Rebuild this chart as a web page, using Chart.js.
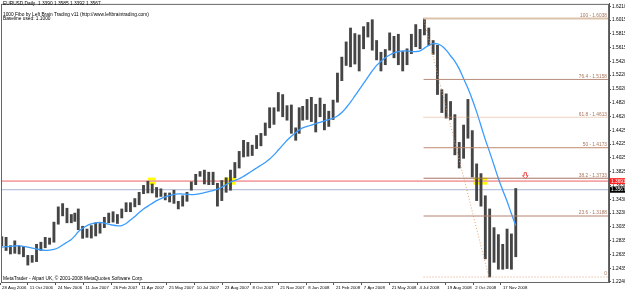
<!DOCTYPE html>
<html>
<head>
<meta charset="utf-8">
<script src="https://cdn.jsdelivr.net/npm/chart.js@4.4.0/dist/chart.umd.min.js"></script>
<style>
html, body { margin: 0; padding: 0; background: #fff; }
</style>
</head>
<body>
<canvas id="eurusd" width="625" height="290"></canvas>
<script>
// weekly ranges, week 0 = 28 Aug 2006
const weekLow = [
  1.2760, 1.2690, 1.2640, 1.2650, 1.2640, 1.2600, 1.2480, 1.2520, 1.2530, 1.2690,
  1.2730, 1.2780, 1.2810, 1.3070, 1.3190, 1.3090, 1.3090, 1.3110, 1.2990, 1.2866,
  1.2880, 1.2870, 1.2900, 1.2940, 1.3020, 1.3090, 1.3100, 1.3080, 1.3160, 1.3250,
  1.3250, 1.3320, 1.3350, 1.3510, 1.3520, 1.3520, 1.3460, 1.3470, 1.3420, 1.3390,
  1.3370, 1.3290, 1.3330, 1.3400, 1.3560, 1.3640, 1.3760, 1.3650, 1.3640, 1.3640,
  1.3330, 1.3410, 1.3530, 1.3560, 1.3740, 1.3880, 1.4040, 1.4050, 1.4060, 1.4160,
  1.4200, 1.4350, 1.4460, 1.4510, 1.4700, 1.4620, 1.4570, 1.4380, 1.4280, 1.4380,
  1.4570, 1.4580, 1.4550, 1.4400, 1.4620, 1.4430, 1.4480, 1.4580, 1.4830, 1.5140,
  1.5360, 1.5340, 1.5380, 1.5280, 1.5600, 1.5770, 1.5580, 1.5440, 1.5280, 1.5370,
  1.5580, 1.5470, 1.5370, 1.5280, 1.5370, 1.5530, 1.5630, 1.5600, 1.5800, 1.5650,
  1.5520, 1.4940, 1.4680, 1.4600, 1.4580, 1.4070, 1.3880, 1.4020, 1.4310, 1.3750,
  1.3410, 1.3330, 1.2570, 1.2308, 1.2520, 1.2420, 1.2420, 1.2430, 1.2420, 1.2600
];
const weekHigh = [
  1.2890, 1.2880, 1.2760, 1.2830, 1.2750, 1.2750, 1.2620, 1.2620, 1.2780, 1.2810,
  1.2880, 1.2870, 1.3100, 1.3320, 1.3367, 1.3300, 1.3210, 1.3230, 1.3290, 1.3040,
  1.3000, 1.3050, 1.3090, 1.3080, 1.3170, 1.3230, 1.3250, 1.3210, 1.3290, 1.3380,
  1.3380, 1.3440, 1.3530, 1.3630, 1.3690, 1.3650, 1.3600, 1.3580, 1.3520, 1.3520,
  1.3560, 1.3400, 1.3480, 1.3530, 1.3680, 1.3790, 1.3830, 1.3850, 1.3820, 1.3820,
  1.3660, 1.3700, 1.3740, 1.3850, 1.3960, 1.4120, 1.4280, 1.4250, 1.4210, 1.4350,
  1.4380, 1.4530, 1.4750, 1.4750, 1.4970, 1.4940, 1.4780, 1.4790, 1.4460, 1.4750,
  1.4770, 1.4870, 1.4900, 1.4800, 1.4890, 1.4800, 1.4700, 1.4860, 1.5250, 1.5480,
  1.5700, 1.5900, 1.5820, 1.5800, 1.5920, 1.5980, 1.6020, 1.5720, 1.5550, 1.5590,
  1.5830, 1.5780, 1.5810, 1.5560, 1.5600, 1.5810, 1.5950, 1.5880, 1.6038, 1.5900,
  1.5720, 1.5650, 1.5010, 1.4950, 1.4840, 1.4650, 1.4250, 1.4500, 1.4870, 1.4420,
  1.3940, 1.3800, 1.3480, 1.3290, 1.3020, 1.2920, 1.2780, 1.3000, 1.2930, 1.3585
];
// blue moving average, read per week
const maValues = [
  1.2740, 1.2745, 1.2750, 1.2755, 1.2760, 1.2750, 1.2740, 1.2725, 1.2712, 1.2700,
  1.2692, 1.2695, 1.2705, 1.2730, 1.2770, 1.2810, 1.2850, 1.2900, 1.2960, 1.3010,
  1.3050, 1.3075, 1.3090, 1.3095, 1.3085, 1.3070, 1.3055, 1.3047, 1.3050, 1.3080,
  1.3130, 1.3180, 1.3240, 1.3290, 1.3330, 1.3370, 1.3410, 1.3440, 1.3465, 1.3485,
  1.3500, 1.3507, 1.3505, 1.3500, 1.3497, 1.3500, 1.3510, 1.3525, 1.3540, 1.3555,
  1.3575, 1.3605, 1.3640, 1.3675, 1.3700, 1.3725, 1.3760, 1.3800, 1.3840, 1.3880,
  1.3920, 1.3960, 1.4010, 1.4070, 1.4140, 1.4210, 1.4280, 1.4340, 1.4390, 1.4430,
  1.4460, 1.4480, 1.4500, 1.4520, 1.4540, 1.4560, 1.4580, 1.4600, 1.4630, 1.4680,
  1.4750, 1.4830, 1.4920, 1.5010, 1.5100, 1.5190, 1.5280, 1.5360, 1.5420, 1.5470,
  1.5510, 1.5540, 1.5560, 1.5570, 1.5570, 1.5560, 1.5560, 1.5570, 1.5610, 1.5650,
  1.5675, 1.5670, 1.5640, 1.5580, 1.5500, 1.5420, 1.5310, 1.5170, 1.5030, 1.4870,
  1.4690, 1.4490, 1.4290, 1.4110, 1.3920, 1.3730, 1.3560, 1.3400, 1.3220, 1.3050
];

const dateLabels = ['28 Aug 2006', '11 Oct 2006', '24 Nov 2006', '11 Jan 2007', '26 Feb 2007',
  '11 Apr 2007', '25 May 2007', '10 Jul 2007', '23 Aug 2007', '8 Oct 2007', '21 Nov 2007',
  '8 Jan 2008', '21 Feb 2008', '7 Apr 2008', '21 May 2008', '4 Jul 2008', '19 Aug 2008',
  '2 Oct 2008', '17 Nov 2008'];
const dateBars = [0, 32, 64, 96, 128, 160, 192, 224, 256, 288, 320, 352, 384, 416, 448, 480, 512, 544, 576];

const priceTicks = [1.6210, 1.6015, 1.5815, 1.5615, 1.5420, 1.5220, 1.5020, 1.4820, 1.4620, 1.4425,
  1.4225, 1.4025, 1.3825, 1.3630, 1.3430, 1.3230, 1.3035, 1.2835, 1.2635, 1.2435, 1.2240];

const fibNames = ['100', '76.4', '61.8', '50', '38.2', '23.6', '0'];
const fibPrices = [1.6038, 1.5158, 1.4613, 1.4173, 1.3733, 1.3188, 1.2308];
const peakBar = 487;   // 15 Jul 2008
const lowBar = 562;    // 28 Oct 2008

const levelPrice = 1.3691;   // red horizontal line
const bidPrice = 1.3567;
const touchZones = [[170, 179], [258, 264], [265, 271], [544, 560]];
const arrowBar = 604;
const arrowPrice = 1.3813;

const titleLines = ['EURUSD,Daily  1.3390 1.3585 1.3392 1.3567', '',
  '1000 Fibo by Left Brain Trading v11 (http://www.leftbraintrading.com)', 'Baseline used: 1.1000'];
const footer = 'MetaTrader - Alpari UK, \u00a9 2001-2008 MetaQuotes Software Corp.';

const xMin = 1.15, xMax = 700.2;
const yMin = 1.2236, yMax = 1.6248;

// Dec 25 and Jan 1 have no bars
function barOfWeek(k) {
  let b = 5 * k + 2;
  if (k >= 18) b -= 2; else if (k === 17) b -= 1;
  if (k >= 70) b -= 2; else if (k === 69) b -= 1;
  return b;
}

const fibColors = ['#dcc2aa', '#b88e7c', '#d8a486', '#c08a70', '#a87464', '#b48270', '#e0a27e'];
const fibWidths = [2, 1, 1, 1, 1, 1, 1];
const fibDash = [[], [], [1, 1], [], [], [], [1, 2]];

const FONT = '"Liberation Sans", Arial, sans-serif';
const SIZE = 4.8;
const tiny = SIZE + 'px ' + FONT;

const datasets = [{
  type: 'bar',
  data: weekLow.map((lo, k) => ({ x: barOfWeek(k), y: [lo, weekHigh[k]] })),
  backgroundColor: '#454545',
  barThickness: 2.2,
  borderWidth: 0,
  order: 5
}, {
  type: 'line',
  data: maValues.map((v, k) => ({ x: barOfWeek(k), y: v })),
  borderColor: '#3a9cff',
  borderWidth: 1.3,
  pointRadius: 0,
  tension: 0.4,
  order: 4
}, {
  type: 'line',
  data: [{ x: xMin, y: levelPrice }, { x: xMax, y: levelPrice }],
  borderColor: '#f4a4a4',
  borderWidth: 1.6,
  pointRadius: 0,
  order: 6
}, {
  type: 'line',
  data: [{ x: xMin, y: bidPrice }, { x: xMax, y: bidPrice }],
  borderColor: '#aab4d2',
  borderWidth: 1,
  pointRadius: 0,
  order: 6
}, {
  type: 'line',
  data: [{ x: peakBar, y: fibPrices[0] }, { x: lowBar, y: fibPrices[6] }],
  borderColor: '#e0a070',
  borderWidth: 1,
  borderDash: [1, 2],
  pointRadius: 0,
  order: 3
}];

fibPrices.forEach((p, i) => {
  datasets.push({
    type: 'line',
    data: [{ x: peakBar, y: p }, { x: xMax, y: p }],
    borderColor: fibColors[i],
    borderWidth: fibWidths[i],
    borderDash: fibDash[i],
    pointRadius: 0,
    order: 2
  });
});

const overlay = {
  id: 'overlay',
  beforeDatasetsDraw(chart) {
    const { ctx, scales: { x, y } } = chart;
    const yc = y.getPixelForValue(levelPrice);
    ctx.save();
    ctx.fillStyle = '#ffff00';
    touchZones.forEach(([b0, b1]) => {
      const x0 = x.getPixelForValue(b0), x1 = x.getPixelForValue(b1);
      ctx.fillRect(x0, yc - 3.5, x1 - x0, 7);
    });
    ctx.restore();
  },
  afterDraw(chart) {
    const { ctx, chartArea: a, scales: { x, y } } = chart;
    ctx.save();
    // frame
    ctx.strokeStyle = '#666';
    ctx.lineWidth = 1;
    ctx.strokeRect(a.left + 0.5, a.top + 0.5, a.right - a.left - 1, a.bottom - a.top);

    ctx.font = tiny;
    ctx.textBaseline = 'middle';
    ctx.fillStyle = '#000';
    ctx.textAlign = 'left';
    const rows = [4, 9.5, 14.3, 18.8];
    titleLines.forEach((t, i) => ctx.fillText(t, 3, rows[i]));
    ctx.fillText(footer, 3, a.bottom - 3);

    // fibo labels
    ctx.textAlign = 'right';
    ctx.textBaseline = 'bottom';
    fibPrices.forEach((p, i) => {
      const t = fibNames[i] === '0' ? '0' : fibNames[i] + ' - ' + p.toFixed(4);
      ctx.fillStyle = '#a8745a';
      ctx.fillText(t, a.right - 2, y.getPixelForValue(p) - 0.5);
    });

    // arrow
    const ax = x.getPixelForValue(arrowBar), ay = y.getPixelForValue(arrowPrice);
    ctx.beginPath();
    ctx.moveTo(ax - 1.2, ay);
    ctx.lineTo(ax + 1.2, ay);
    ctx.lineTo(ax + 1.2, ay + 3);
    ctx.lineTo(ax + 2.8, ay + 3);
    ctx.lineTo(ax, ay + 6);
    ctx.lineTo(ax - 2.8, ay + 3);
    ctx.lineTo(ax - 1.2, ay + 3);
    ctx.closePath();
    ctx.fillStyle = '#fff';
    ctx.fill();
    ctx.strokeStyle = '#f05050';
    ctx.stroke();

    // price labels on the axis
    ctx.textAlign = 'left';
    ctx.textBaseline = 'middle';
    [[levelPrice, '#ff2020'], [bidPrice, '#000']].forEach(([p, c]) => {
      const py = y.getPixelForValue(p);
      ctx.fillStyle = c;
      ctx.fillRect(a.right + 1, py - 3, 15, 6);
      ctx.fillStyle = '#fff';
      ctx.fillText(p.toFixed(4), a.right + 2, py + 0.3);
    });
    ctx.restore();
  }
};

new Chart(document.getElementById('eurusd'), {
  type: 'bar',
  data: { datasets },
  options: {
    responsive: false,
    devicePixelRatio: 1,
    animation: false,
    events: [],
    layout: { padding: 0 },
    plugins: { legend: { display: false }, tooltip: { enabled: false } },
    scales: {
      x: {
        type: 'linear',
        min: xMin,
        max: xMax,
        offset: false,
        afterBuildTicks: s => { s.ticks = dateBars.map(v => ({ value: v })); },
        afterFit: s => { s.height = 8; },
        grid: { drawOnChartArea: false, offset: false, tickLength: 3, color: '#555' },
        border: { color: '#555' },
        ticks: {
          autoSkip: false,
          maxRotation: 0,
          align: 'start',
          labelOffset: 2,
          padding: 0,
          color: '#000',
          font: { family: FONT, size: 4.3 },
          callback: (v, i) => dateLabels[i]
        }
      },
      y: {
        type: 'linear',
        position: 'right',
        min: yMin,
        max: yMax,
        afterBuildTicks: s => { s.ticks = priceTicks.map(v => ({ value: v })); },
        afterFit: s => { s.width = 16; },
        grid: { drawOnChartArea: false, tickLength: 2, color: '#555' },
        border: { color: '#555' },
        ticks: {
          padding: 1,
          color: '#000',
          font: { family: FONT, size: SIZE },
          callback: v => v.toFixed(4)
        }
      }
    }
  },
  plugins: [overlay]
});
</script>
</body>
</html>
